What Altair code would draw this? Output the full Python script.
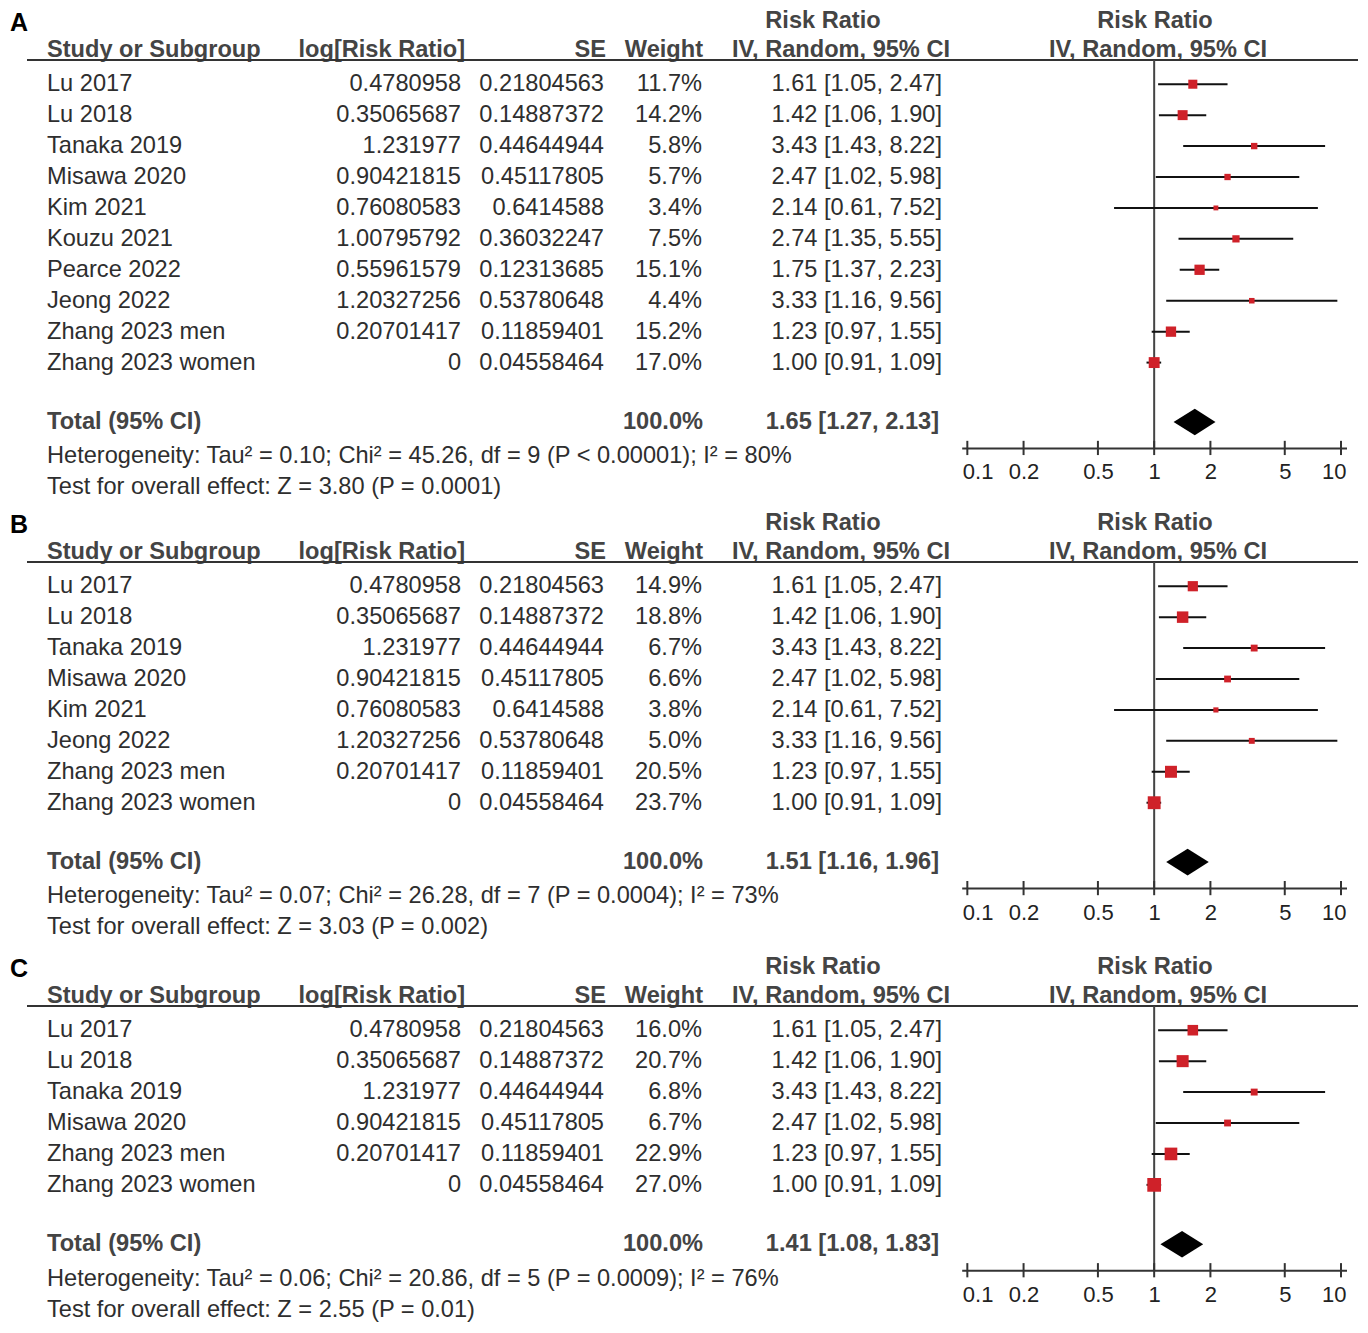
import altair as alt
import pandas as pd

# ---------------- data ----------------
STUDIES = ["Lu 2017", "Lu 2018", "Tanaka 2019", "Misawa 2020", "Kim 2021",
           "Kouzu 2021", "Pearce 2022", "Jeong 2022", "Zhang 2023 men", "Zhang 2023 women"]
LOG_RR = ["0.4780958", "0.35065687", "1.231977", "0.90421815", "0.76080583",
          "1.00795792", "0.55961579", "1.20327256", "0.20701417", "0"]
SE = ["0.21804563", "0.14887372", "0.44644944", "0.45117805", "0.6414588",
      "0.36032247", "0.12313685", "0.53780648", "0.11859401", "0.04558464"]
RR = [1.61, 1.42, 3.43, 2.47, 2.14, 2.74, 1.75, 3.33, 1.23, 1.00]
RR_LO = [1.05, 1.06, 1.43, 1.02, 0.61, 1.35, 1.37, 1.16, 0.97, 0.91]
RR_HI = [2.47, 1.90, 8.22, 5.98, 7.52, 5.55, 2.23, 9.56, 1.55, 1.09]

PANEL_LABELS = ["A", "B", "C"]
STUDIES_A = STUDIES
STUDIES_B = ["Lu 2017", "Lu 2018", "Tanaka 2019", "Misawa 2020", "Kim 2021",
             "Jeong 2022", "Zhang 2023 men", "Zhang 2023 women"]
STUDIES_C = ["Lu 2017", "Lu 2018", "Tanaka 2019", "Misawa 2020",
             "Zhang 2023 men", "Zhang 2023 women"]
WEIGHTS_A = [11.7, 14.2, 5.8, 5.7, 3.4, 7.5, 15.1, 4.4, 15.2, 17.0]
WEIGHTS_B = [14.9, 18.8, 6.7, 6.6, 3.8, 5.0, 20.5, 23.7]
WEIGHTS_C = [16.0, 20.7, 6.8, 6.7, 22.9, 27.0]
TOTAL_RR = [1.65, 1.51, 1.41]
TOTAL_LO = [1.27, 1.16, 1.08]
TOTAL_HI = [2.13, 1.96, 1.83]
HETEROGENEITY = [
    "Heterogeneity: Tau\u00b2 = 0.10; Chi\u00b2 = 45.26, df = 9 (P < 0.00001); I\u00b2 = 80%",
    "Heterogeneity: Tau\u00b2 = 0.07; Chi\u00b2 = 26.28, df = 7 (P = 0.0004); I\u00b2 = 73%",
    "Heterogeneity: Tau\u00b2 = 0.06; Chi\u00b2 = 20.86, df = 5 (P = 0.0009); I\u00b2 = 76%",
]
OVERALL = [
    "Test for overall effect: Z = 3.80 (P = 0.0001)",
    "Test for overall effect: Z = 3.03 (P = 0.002)",
    "Test for overall effect: Z = 2.55 (P = 0.01)",
]
TICKS = [0.1, 0.2, 0.5, 1, 2, 5, 10]

# ---------------- style / layout ----------------
FONT = "Liberation Sans"
FS = 23.6
TEXT = "#2e2e2e"
HEAD = "#444444"
RED = "#cf2129"
U = 30.93          # px per table row
TOP = -2.27        # row units above first study row shown in plot
W = 1351

def panel(k, studies, weights):
    n = len(studies)
    axis_row = n + 1.76
    H = (axis_row - TOP) * U
    idx = [STUDIES.index(s) for s in studies]
    rows = pd.DataFrame({
        "y": list(range(n)),
        "study": studies,
        "logrr": [LOG_RR[i] for i in idx],
        "se": [SE[i] for i in idx],
        "weight": [f"{w:.1f}%" for w in weights],
        "ci": [f"{RR[i]:.2f} [{RR_LO[i]:.2f}, {RR_HI[i]:.2f}]" for i in idx],
        "rr": [RR[i] for i in idx],
        "lo": [RR_LO[i] for i in idx],
        "hi": [RR_HI[i] for i in idx],
        "sz": [w * 7.0 for w in weights],
    })
    ys = alt.Scale(domain=[TOP, axis_row], reverse=True, nice=False, zero=False)
    xs = alt.Scale(type="log", domain=[0.0933, 10.7], range=[953.7, 1338.5], nice=False)
    xaxis = alt.Axis(values=TICKS, format="~g", title=None, ticks=False, grid=False,
                     domainColor="#333333", domainWidth=2, labelFont=FONT, labelFontSize=22,
                     labelColor="#222222", labelPadding=14, labelFlush=7,
                     labelFlushOffset=5, labelOverlap=False)

    def Y(f="y"):
        return alt.Y(f"{f}:Q", scale=ys, axis=None)

    def X(f):
        return alt.X(f"{f}:Q", scale=xs, axis=xaxis)

    def text_layer(df, field, x, align, bold=False, color=TEXT, size=FS):
        return alt.Chart(df).mark_text(
            align=align, baseline="middle", font=FONT, fontSize=size,
            fontWeight="bold" if bold else "normal", color=color
        ).encode(x=alt.value(x), y=Y(), text=f"{field}:N")

    def one(text, y):
        return pd.DataFrame({"t": [text], "y": [y]})

    h1, h2, hl = -2.05, -1.09, -0.78
    tot = n + 0.92
    layers = [
        text_layer(one(PANEL_LABELS[k], h1 + 0.07), "t", 2, "left", True, "#000000", 25),
        text_layer(one("Risk Ratio", h1), "t", 815, "center", True, HEAD),
        text_layer(one("Risk Ratio", h1), "t", 1147, "center", True, HEAD),
        text_layer(one("Study or Subgroup", h2), "t", 39, "left", True, HEAD),
        text_layer(one("log[Risk Ratio]", h2), "t", 457, "right", True, HEAD),
        text_layer(one("SE", h2), "t", 598, "right", True, HEAD),
        text_layer(one("Weight", h2), "t", 695, "right", True, HEAD),
        text_layer(one("IV, Random, 95% CI", h2), "t", 942, "right", True, HEAD),
        text_layer(one("IV, Random, 95% CI", h2), "t", 1150, "center", True, HEAD),
        alt.Chart(one("", hl)).mark_rule(color="#333333", strokeWidth=2).encode(
            x=alt.value(19), x2=alt.value(W - 1), y=Y()),
        alt.Chart(pd.DataFrame({"x": [1.0], "y": [hl], "y2": [axis_row]})).mark_rule(
            color="#444444", strokeWidth=2).encode(x=X("x"), y=Y(), y2="y2:Q"),
        text_layer(rows, "study", 39, "left"),
        text_layer(rows, "logrr", 453, "right"),
        text_layer(rows, "se", 596, "right"),
        text_layer(rows, "weight", 694, "right"),
        text_layer(rows, "ci", 934, "right"),
        alt.Chart(rows).mark_rule(color="#111111", strokeWidth=2).encode(
            x=X("lo"), x2="hi:Q", y=Y()),
        alt.Chart(rows).mark_square(color=RED, opacity=1).encode(
            x=X("rr"), y=Y(), size=alt.Size("sz:Q", scale=None)),
        text_layer(one("Total (95% CI)", tot), "t", 39, "left", True, HEAD),
        text_layer(one("100.0%", tot), "t", 695, "right", True, HEAD),
        text_layer(one(f"{TOTAL_RR[k]:.2f} [{TOTAL_LO[k]:.2f}, {TOTAL_HI[k]:.2f}]", tot),
                   "t", 931, "right", True, HEAD),
        alt.Chart(pd.DataFrame({
            "x": [TOTAL_LO[k], TOTAL_RR[k], TOTAL_HI[k]],
            "y": [tot, tot - 0.43, tot],
            "y2": [tot, tot + 0.43, tot],
        })).mark_area(color="#000000", opacity=1, interpolate="linear").encode(
            x=X("x"), y=Y(), y2="y2:Q"),
        alt.Chart(pd.DataFrame({"x": TICKS, "y": [axis_row - 0.23] * len(TICKS),
                                "y2": [axis_row + 0.23] * len(TICKS)})).mark_rule(
            color="#333333", strokeWidth=2).encode(x=X("x"), y=Y(), y2="y2:Q"),
        text_layer(one(HETEROGENEITY[k], n + 2.03), "t", 39, "left"),
        text_layer(one(OVERALL[k], n + 3.03), "t", 39, "left"),
    ]
    return alt.layer(*layers).properties(width=W, height=H)


pA = panel(0, STUDIES_A, WEIGHTS_A)
pB = panel(1, STUDIES_B, WEIGHTS_B)
pC = panel(2, STUDIES_C, WEIGHTS_C)

chart = alt.vconcat(pA, alt.vconcat(pB, pC, spacing=15), spacing=11).properties(
    padding={"left": 0, "top": 0, "right": 0, "bottom": 0}
).configure_view(stroke=None)

chart.save("out.html", embed_options={"renderer": "svg", "actions": False})
